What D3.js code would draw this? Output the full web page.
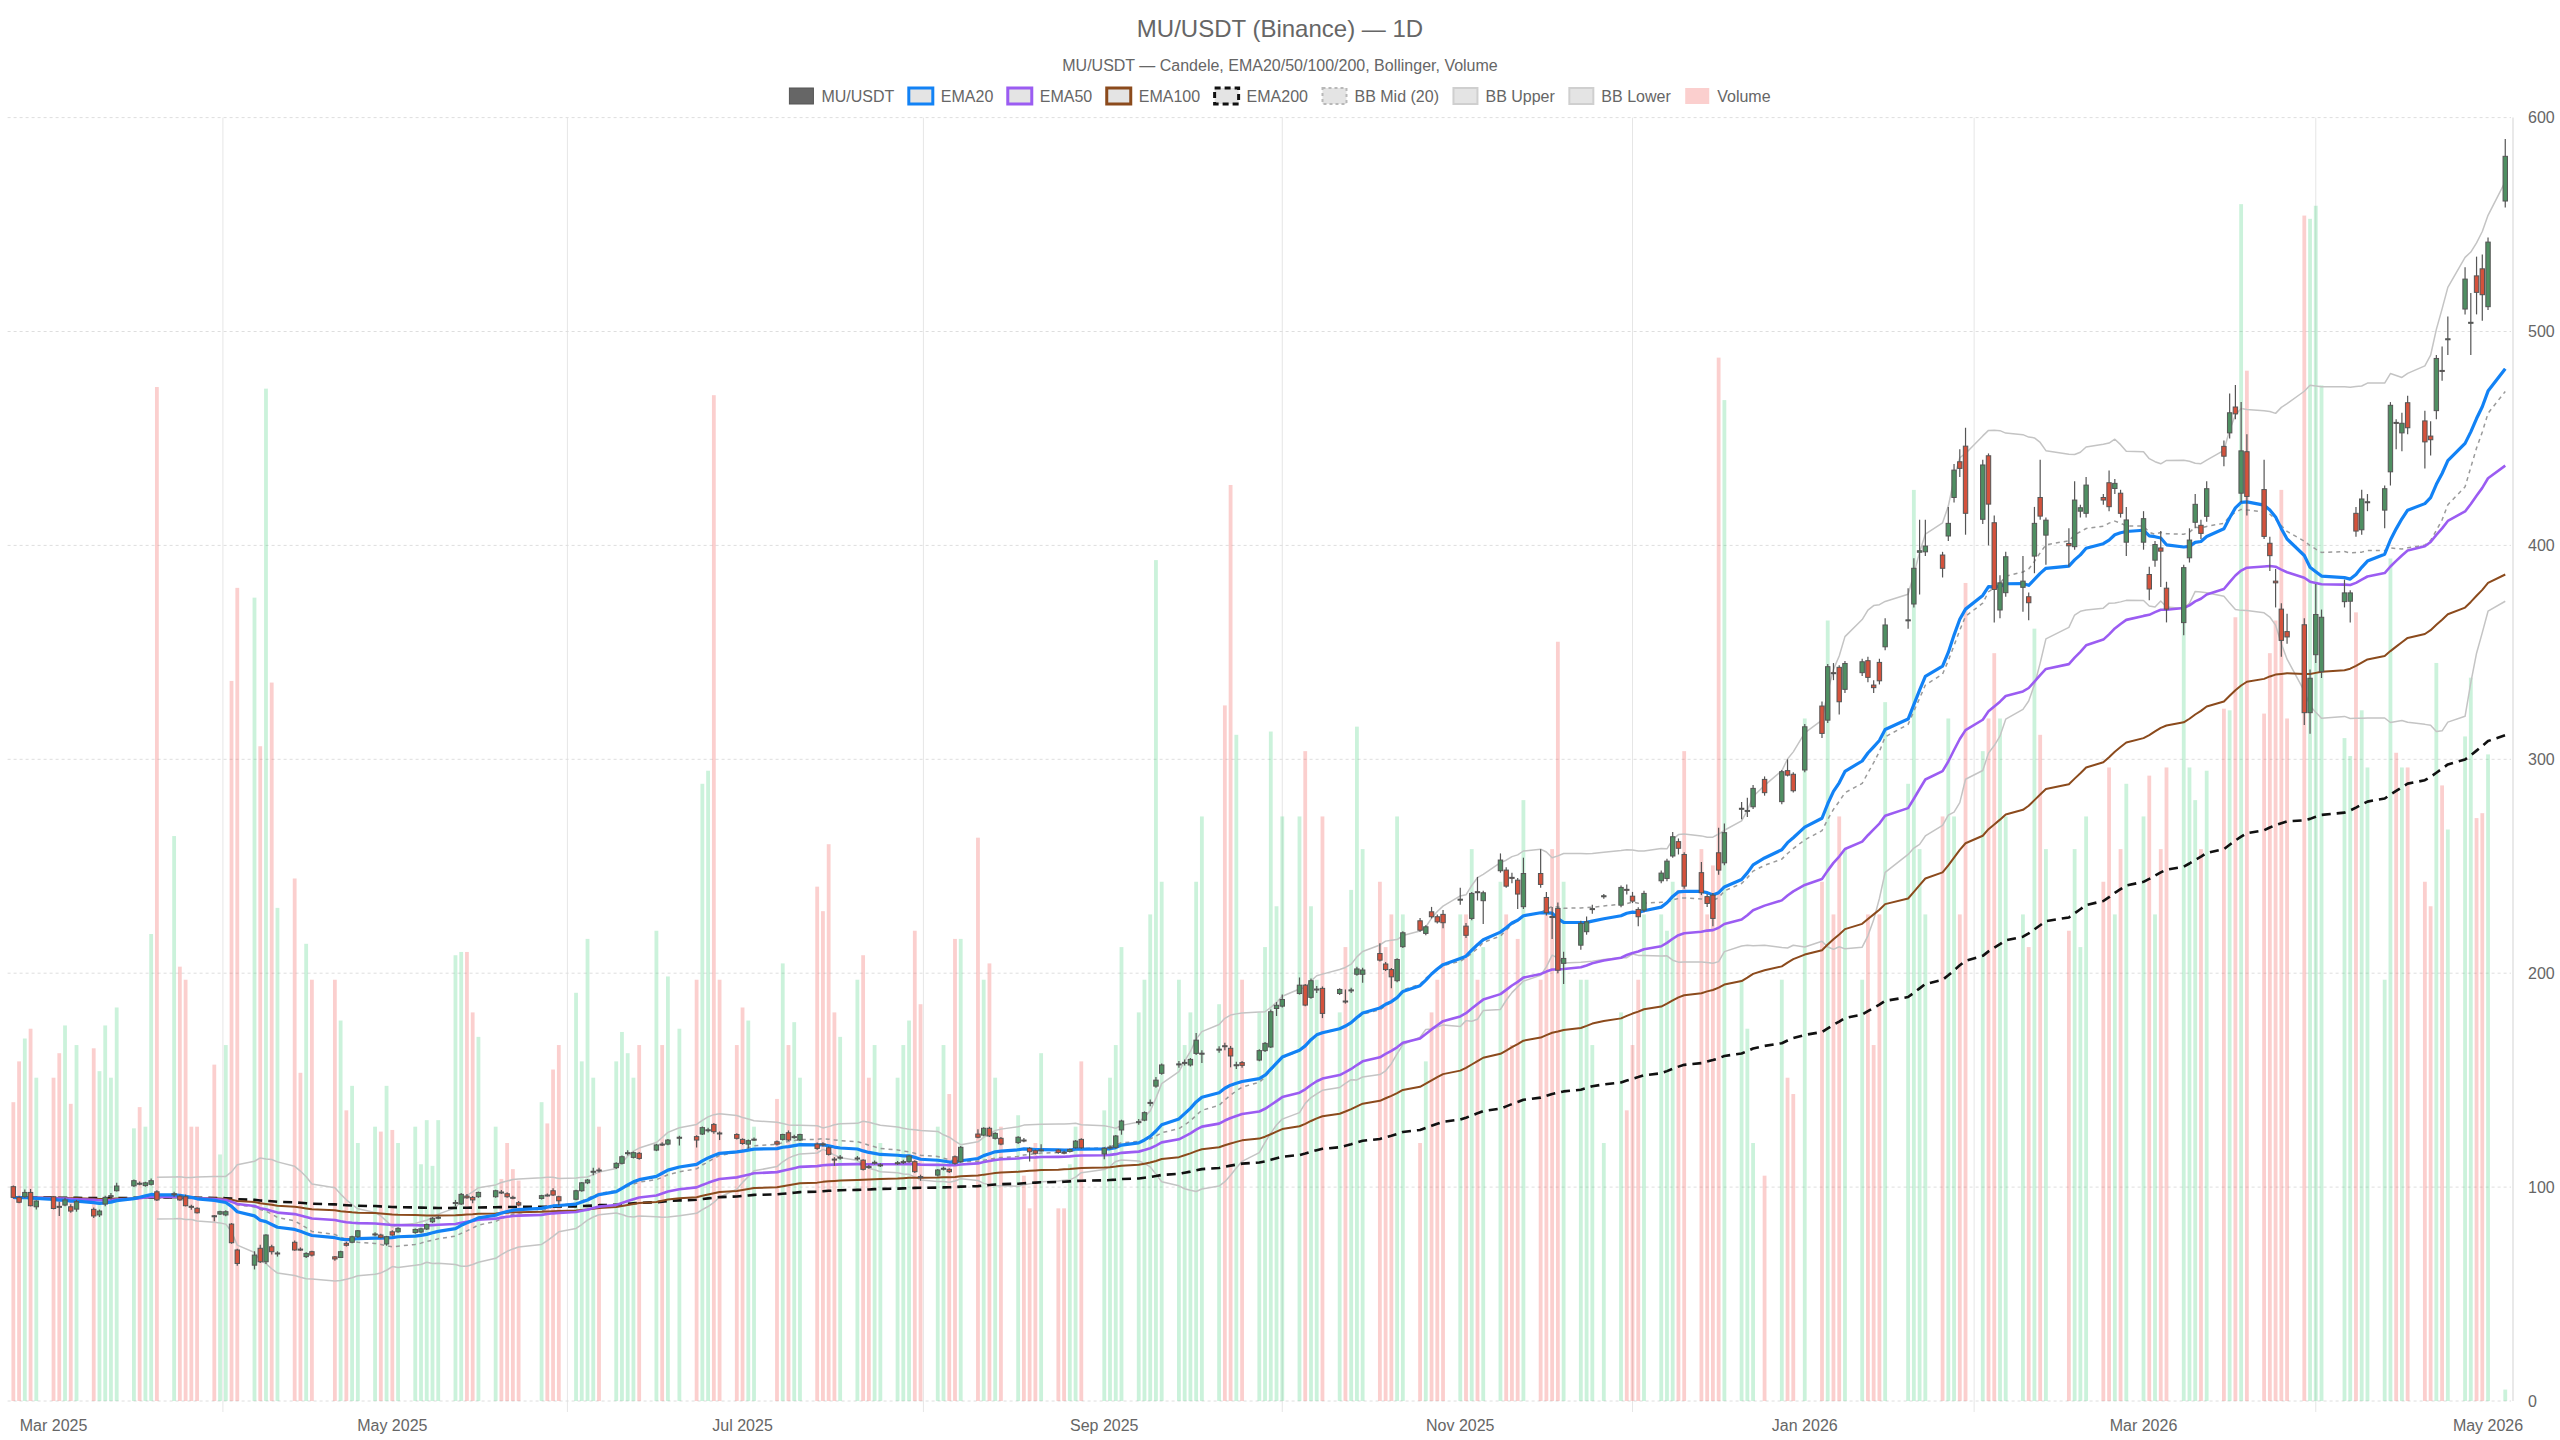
<!DOCTYPE html>
<html>
<head>
<meta charset="utf-8">
<script src="https://cdn.jsdelivr.net/npm/d3@7"></script>
<style>
  html, body { margin: 0; padding: 0; background: #fff; }
  svg text { font-family: "Liberation Sans", Arial, sans-serif; fill: #666; }
</style>
</head>
<body>
<div id="chart"></div>
<script>
// Giorni di borsa: dal 24/02/2025 al 04/05/2026, senza weekend e festività USA
const firstDay = '2025-02-24';
const lastDay = '2026-05-04';
const holidays = ['2025-04-18', '2025-05-26', '2025-06-19', '2025-07-04', '2025-09-01',
  '2025-11-27', '2025-12-25', '2026-01-01', '2026-01-19', '2026-02-16', '2026-04-03'];

// Etichette asse X (primo giorno di borsa del mese)
const tickDates = ['2025-03-03', '2025-05-01', '2025-07-01', '2025-09-02',
  '2025-11-03', '2026-01-02', '2026-03-02', '2026-05-01'];
const tickLabels = ['Mar 2025', 'May 2025', 'Jul 2025', 'Sep 2025',
  'Nov 2025', 'Jan 2026', 'Mar 2026', 'May 2026'];
const priceTicks = [0, 100, 200, 300, 400, 500, 600];

// OHLC, una riga per settimana
const opens = [
  100.2, 95.2, 95.5, 97.5, 90.8,
  95.5, 91.0, 91.6, 90.8, 89.7,
  89.6, 87.0, 92.1, 95.8, 98.3,
  100.6, 101.8, 100.7, 101.3, 97.8,
  96.7, 95.8, 95.5, 91.0, 90.1,
  86.6, 87.4, 87.0, 82.7, 70.6,
  63.5, 71.4, 65.1, 72.1, 69.0,
  74.2, 71.0, 67.5, 69.8,
  67.4, 67.1, 73.7, 74.2, 76.8,
  78.0, 77.6, 73.4, 79.1, 79.1,
  78.8, 79.0, 80.4, 83.8, 85.8,
  92.5, 92.1, 95.8, 95.2, 95.5,
  95.5, 97.7, 96.9, 95.2, 92.7,
  94.7, 96.3, 98.3, 95.5,
  94.3, 98.3, 102.0, 107.2, 108.0,
  109.1, 111.1, 116.0, 113.9, 115.8,
  117.3, 120.1, 120.1, 123.1,
  123.6, 124.8, 126.6, 129.3, 125.3,
  124.6, 122.3, 120.1, 122.3,
  121.2, 122.3, 125.4, 123.5, 122.0,
  120.1, 120.2, 118.4, 113.1, 113.9,
  113.4, 112.6, 109.6, 111.4, 110.3,
  111.3, 111.8, 111.9, 111.9, 104.9,
  105.6, 108.7, 108.3, 114.2, 111.9,
  124.8, 124.3, 127.5, 122.8, 122.8,
  120.8, 122.0, 118.1, 117.0, 117.3,
  117.3, 116.3, 116.7, 118.4, 122.3,
  115.5, 118.6, 118.6, 126.7,
  130.4, 131.3, 139.5, 147.2, 153.2,
  157.4, 158.2, 157.1, 162.5, 162.5,
  164.4, 166.1, 164.9, 157.1, 158.2,
  159.4, 163.8, 165.5, 183.5, 184.6,
  190.5, 194.4, 188.7, 192.4, 192.9,
  190.5, 187.0, 192.1, 199.5, 199.5,
  209.2, 204.3, 201.7, 196.5, 212.4,
  224.5, 218.6, 228.7, 226.4, 227.5,
  234.5, 222.0, 225.6, 238.1, 233.9,
  247.9, 248.2, 244.8, 243.5, 231.1,
  246.6, 235.4, 226.5, 230.3, 204.6,
  213.1, 219.4, 230.1, 236.0,
  231.8, 239.2, 236.0, 229.8, 229.5,
  243.2, 244.3, 254.8, 261.5, 255.5,
  247.0, 235.8, 236.5, 256.3, 251.6,
  277.0, 276.0, 277.8, 290.6,
  280.2, 294.7, 293.0, 295.0,
  324.9, 318.3, 340.5, 343.0, 332.7,
  340.5, 346.1, 334.7, 345.3, 352.6,
  365.0, 372.6, 396.8, 397.0,
  395.5, 404.4, 422.4, 439.1, 446.4,
  412.2, 441.9, 410.6, 369.8, 377.9,
  380.4, 376.0, 395.0, 422.4, 404.8,
  400.9, 399.4, 416.0, 415.0,
  422.4, 429.3, 426.6, 424.4, 401.5,
  401.5, 386.4, 393.1, 398.8, 380.0,
  363.9, 394.2, 410.8, 409.4, 413.6,
  446.3, 452.6, 464.7, 424.4, 443.8,
  426.1, 401.0, 383.3, 370.2, 359.7,
  362.9, 321.8, 348.9, 341.0,
  373.7, 373.9, 415.0, 407.3, 420.2,
  416.5, 434.4, 457.5, 452.6, 466.7,
  458.2, 451.1, 463.0, 481.8, 496.4,
  510.5, 504.1, 526.0, 529.3, 511.6,
  561.0
];
const highs = [
  100.8, 96.0, 98.9, 99.1, 93.8,
  95.8, 93.2, 95.0, 92.0, 94.0,
  90.5, 89.5, 96.0, 97.2, 102.0,
  103.5, 102.6, 102.5, 104.0, 98.5,
  97.8, 96.4, 96.5, 91.8, 90.6,
  87.0, 88.9, 89.2, 83.2, 71.2,
  70.0, 73.0, 78.0, 73.0, 70.0,
  75.0, 71.8, 69.5, 70.3,
  67.8, 70.3, 74.5, 77.2, 80.0,
  78.9, 78.2, 77.2, 79.8, 81.2,
  80.6, 81.0, 83.0, 86.0, 86.6,
  94.0, 97.2, 96.8, 95.8, 97.9,
  98.8, 98.6, 97.6, 96.0, 93.5,
  96.4, 97.0, 99.5, 96.0,
  98.8, 102.4, 103.8, 109.0, 109.0,
  111.6, 114.8, 117.2, 116.6, 116.4,
  120.2, 121.0, 122.5, 124.0,
  124.2, 128.3, 127.8, 130.0, 126.0,
  125.2, 122.8, 122.2, 123.2,
  121.8, 125.0, 126.5, 124.5, 125.0,
  120.8, 121.0, 119.0, 114.0, 115.0,
  114.5, 113.0, 110.5, 112.4, 111.2,
  112.2, 112.8, 115.0, 112.5, 105.8,
  108.5, 109.6, 108.8, 114.8, 119.2,
  127.0, 128.0, 128.2, 125.6, 123.4,
  123.8, 123.0, 118.6, 117.6, 120.0,
  117.8, 117.0, 118.0, 122.0, 122.8,
  118.6, 119.6, 124.4, 131.5,
  131.8, 135.4, 141.0, 151.5, 157.8,
  159.0, 159.6, 160.4, 172.0, 164.0,
  165.8, 167.5, 166.0, 158.6, 159.0,
  164.4, 167.8, 183.0, 186.5, 190.0,
  198.0, 195.0, 197.5, 194.0, 193.8,
  193.0, 192.4, 193.2, 203.0, 202.6,
  214.0, 205.2, 202.4, 207.0, 219.6,
  225.8, 222.4, 231.0, 227.4, 229.5,
  240.0, 223.5, 238.0, 245.0, 238.5,
  256.0, 249.5, 247.0, 244.5, 254.0,
  258.0, 238.0, 231.0, 233.0, 210.0,
  224.5, 226.5, 232.0, 237.0,
  241.0, 241.5, 238.0, 230.8, 238.5,
  248.0, 253.5, 266.0, 263.0, 256.5,
  252.0, 237.0, 237.5, 268.0, 270.0,
  280.0, 282.0, 288.0, 292.0,
  295.0, 300.0, 294.0, 316.5,
  327.0, 344.5, 345.0, 344.0, 346.0,
  347.0, 348.0, 337.0, 347.0, 366.0,
  380.0, 394.0, 412.0, 412.0,
  397.0, 418.0, 438.0, 445.0, 455.0,
  440.0, 443.0, 414.0, 386.0, 397.0,
  395.0, 378.0, 418.0, 440.0, 413.0,
  408.0, 430.0, 419.0, 432.0,
  424.0, 435.0, 431.0, 426.0, 418.0,
  416.0, 390.0, 402.0, 406.7, 383.0,
  391.0, 408.0, 424.0, 412.0, 430.0,
  449.0, 471.0, 475.0, 467.0, 452.0,
  440.0, 404.0, 389.0, 373.0, 368.0,
  366.0, 342.0, 382.0, 370.0,
  384.0, 379.0, 418.0, 426.0, 424.0,
  428.0, 467.0, 459.0, 462.0, 470.0,
  463.0, 458.0, 489.0, 493.0, 507.0,
  530.0, 518.0, 535.0, 536.0, 544.0,
  590.0
];
const lows = [
  94.8, 92.4, 95.0, 91.0, 89.5,
  89.6, 86.5, 91.0, 88.0, 88.5,
  85.5, 86.0, 91.0, 94.2, 98.0,
  100.0, 100.9, 100.2, 100.8, 93.5,
  95.5, 93.6, 91.0, 89.4, 87.6,
  84.0, 86.9, 86.4, 73.5, 63.2,
  61.5, 64.5, 64.0, 68.5, 67.5,
  70.2, 70.2, 66.8, 67.6,
  65.6, 66.8, 72.2, 73.8, 76.3,
  77.0, 76.0, 72.6, 77.2, 78.6,
  78.2, 78.4, 80.0, 83.2, 85.0,
  91.0, 91.6, 94.5, 92.5, 95.0,
  95.0, 96.8, 95.0, 94.3, 91.0,
  94.2, 95.6, 95.8, 91.5,
  93.8, 97.8, 101.4, 105.5, 106.8,
  108.5, 110.6, 114.8, 113.4, 112.8,
  116.8, 119.2, 119.6, 119.5,
  118.5, 124.3, 125.5, 125.0, 122.0,
  122.3, 119.8, 118.0, 121.5,
  119.5, 121.8, 121.5, 122.6, 121.5,
  117.5, 119.0, 114.8, 110.0, 112.8,
  112.4, 107.8, 108.6, 110.6, 109.4,
  110.4, 110.8, 111.4, 106.6, 103.0,
  105.0, 107.8, 106.6, 110.5, 111.4,
  122.8, 123.8, 123.4, 122.2, 119.6,
  120.2, 121.0, 112.0, 115.2, 116.6,
  115.6, 115.4, 116.2, 118.0, 117.8,
  113.0, 117.6, 118.0, 124.5,
  129.2, 130.8, 137.8, 146.5, 152.5,
  155.8, 156.8, 156.4, 161.8, 158.0,
  162.8, 164.0, 156.0, 155.2, 155.8,
  158.8, 163.2, 165.0, 180.0, 184.0,
  190.0, 184.5, 188.0, 190.8, 179.0,
  189.8, 185.8, 190.8, 198.8, 195.5,
  205.5, 201.0, 193.0, 195.8, 211.8,
  219.4, 217.8, 225.6, 223.2, 221.0,
  232.0, 216.5, 224.8, 234.0, 223.0,
  247.0, 240.0, 242.0, 230.0, 230.0,
  240.0, 227.0, 216.0, 200.0, 195.0,
  211.0, 218.0, 227.8, 234.8,
  230.8, 236.8, 232.8, 222.0, 228.5,
  242.0, 243.0, 254.0, 255.5, 239.5,
  236.5, 231.0, 222.0, 246.0, 250.5,
  272.0, 273.0, 276.8, 283.0,
  279.0, 292.0, 284.5, 294.0,
  310.0, 317.0, 337.0, 321.0, 331.0,
  339.0, 336.0, 331.0, 335.0, 351.0,
  361.0, 371.0, 377.0, 395.0,
  385.0, 402.0, 420.0, 432.0, 405.0,
  410.0, 400.0, 364.0, 366.0, 376.0,
  369.0, 365.0, 387.0, 412.0, 391.0,
  390.0, 398.0, 413.0, 413.0,
  419.0, 416.0, 424.0, 413.0, 395.0,
  398.0, 374.4, 390.0, 380.6, 364.0,
  358.0, 392.0, 408.0, 403.0, 411.0,
  437.0, 450.0, 459.0, 420.0, 414.0,
  403.0, 388.0, 371.0, 348.0, 354.0,
  316.0, 312.0, 345.0, 338.0,
  371.0, 364.0, 404.0, 405.0, 416.0,
  408.0, 428.0, 445.0, 444.0, 452.0,
  436.0, 442.0, 459.0, 477.0, 489.0,
  508.0, 489.0, 508.0, 505.0, 510.0,
  558.0
];
const closes = [
  95.2, 92.9, 97.5, 91.3, 93.5,
  90.0, 90.8, 94.0, 88.8, 93.2,
  86.5, 88.8, 95.2, 96.0, 100.5,
  103.0, 101.6, 102.0, 103.0, 94.0,
  96.9, 94.0, 91.3, 90.8, 88.0,
  86.4, 88.5, 88.5, 74.0, 64.3,
  68.2, 65.1, 77.6, 69.8, 69.2,
  70.6, 70.9, 69.0, 68.2,
  66.4, 69.8, 72.8, 76.8, 79.6,
  78.1, 76.5, 76.8, 77.6, 80.7,
  80.2, 80.5, 82.5, 85.4, 85.9,
  92.8, 96.6, 95.0, 94.0, 97.5,
  98.3, 97.6, 95.5, 95.1, 91.6,
  96.0, 96.2, 96.3, 93.6,
  98.3, 102.0, 103.3, 107.4, 107.9,
  111.1, 114.2, 116.1, 116.1, 113.4,
  119.7, 120.0, 122.0, 123.3,
  122.0, 127.8, 126.8, 125.9, 125.1,
  122.8, 120.4, 121.7, 122.4,
  120.1, 124.6, 122.0, 123.6, 124.6,
  118.1, 120.0, 115.3, 113.0, 114.0,
  113.6, 108.3, 109.5, 111.6, 110.4,
  111.4, 111.9, 114.5, 107.2, 104.8,
  108.0, 108.8, 107.2, 111.1, 118.6,
  123.3, 127.5, 123.9, 125.1, 120.1,
  123.3, 121.9, 116.5, 115.8, 117.4,
  116.2, 116.2, 117.6, 121.5, 118.4,
  118.1, 118.7, 123.9, 130.9,
  130.6, 134.8, 139.6, 150.0, 157.1,
  157.6, 158.3, 159.7, 168.7, 162.6,
  164.5, 165.9, 161.3, 157.2, 156.9,
  163.8, 167.2, 182.0, 185.0, 187.7,
  194.4, 185.1, 196.5, 192.6, 181.2,
  192.4, 186.9, 192.2, 202.0, 201.5,
  206.1, 201.7, 198.3, 206.4, 218.9,
  220.1, 221.7, 226.4, 224.0, 223.6,
  234.6, 217.7, 237.3, 238.0, 237.6,
  252.9, 240.7, 244.7, 237.0, 246.6,
  241.5, 228.3, 226.3, 201.4, 206.9,
  223.3, 224.0, 230.2, 236.2,
  240.1, 239.1, 233.7, 226.4, 237.3,
  246.8, 252.4, 263.8, 258.4, 240.7,
  237.6, 232.6, 225.6, 248.2, 265.7,
  277.1, 276.1, 286.4, 284.4,
  294.2, 292.6, 285.3, 315.2,
  312.1, 343.3, 340.3, 326.9, 344.8,
  345.6, 338.3, 333.5, 336.7, 362.8,
  365.2, 389.3, 397.5, 399.7,
  389.3, 410.3, 435.2, 436.0, 415.0,
  437.6, 419.3, 379.4, 382.5, 394.7,
  383.3, 373.2, 410.3, 413.7, 411.8,
  399.8, 421.2, 417.6, 428.2,
  421.2, 418.1, 429.0, 415.0, 411.9,
  412.5, 379.6, 400.4, 397.3, 370.2,
  389.6, 402.5, 419.2, 405.6, 426.5,
  441.7, 462.0, 461.5, 444.2, 422.9,
  404.2, 395.2, 382.5, 355.6, 357.2,
  321.8, 337.9, 367.7, 366.4,
  377.8, 377.8, 406.7, 421.7, 420.4,
  426.5, 465.5, 457.3, 457.1, 455.0,
  448.4, 449.4, 487.4, 481.6, 496.6,
  524.5, 504.3, 518.3, 517.2, 541.8,
  581.9
];
// Volume (milioni, stima dall'altezza delle barre)
const volumes = [
  18.3, 20.8, 22.2, 22.8, 19.8,
  19.8, 21.3, 23.0, 18.2, 21.8,
  21.6, 20.2, 23.0, 19.8, 24.1,
  16.7, 18.0, 16.8, 28.6, 62.1,
  34.6, 26.6, 25.8, 16.8, 16.8,
  20.6, 15.1, 21.8, 44.1, 49.8,
  49.2, 40.1, 62.0, 44.0, 30.2,
  32.0, 20.1, 28.0, 25.8,
  25.8, 23.3, 17.8, 19.3, 15.8,
  16.8, 16.5, 19.3, 16.6, 15.8,
  16.8, 14.5, 17.2, 14.4, 17.2,
  27.3, 27.5, 27.5, 23.8, 22.3,
  16.8, 13.6, 15.8, 14.2, 13.5,
  18.3, 17.0, 20.3, 21.8,
  25.0, 20.8, 28.3, 19.8, 16.8,
  20.8, 22.6, 21.3, 19.8, 21.8,
  28.8, 21.8, 26.0, 22.8,
  25.8, 37.8, 38.6, 61.6, 25.8,
  21.8, 24.1, 23.3, 16.8,
  18.5, 26.8, 21.8, 23.2, 19.8,
  31.5, 30.0, 34.1, 23.8, 22.3,
  25.8, 27.3, 19.8, 21.8, 15.8,
  19.8, 21.8, 23.3, 28.8, 24.3,
  16.8, 21.8, 18.8, 28.3, 28.3,
  34.5, 25.8, 26.8, 19.8, 16.8,
  17.5, 13.8, 11.8, 15.8, 21.3,
  11.8, 11.8, 14.5, 16.8, 20.8,
  17.8, 19.8, 21.8, 27.8,
  23.8, 25.8, 29.8, 51.5, 31.8,
  25.8, 21.8, 23.8, 31.8, 35.8,
  24.3, 42.6, 56.1, 40.8, 25.8,
  23.8, 27.8, 41.0, 30.3, 35.8,
  35.8, 39.8, 30.3, 25.8, 35.8,
  23.8, 27.8, 31.3, 41.3, 33.8,
  31.8, 27.8, 29.8, 35.8, 29.8,
  15.8, 20.8, 23.8, 25.8, 29.8,
  29.8, 29.8, 33.8, 25.8, 27.8,
  31.8, 29.8, 21.8, 28.3, 36.8,
  25.8, 29.8, 33.8, 46.5, 31.8,
  25.8, 25.8, 21.8, 15.8,
  23.8, 17.8, 21.8, 25.8, 29.8,
  29.8, 28.8, 31.8, 31.3, 39.8,
  33.8, 29.8, 32.8, 63.9, 61.3,
  25.8, 22.8, 15.8, 13.8,
  25.8, 19.8, 18.8, 41.8,
  31.8, 47.8, 29.8, 35.8, 33.8,
  25.8, 29.8, 21.8, 29.8, 42.8,
  37.8, 55.8, 33.8, 29.8,
  35.8, 41.8, 35.8, 29.8, 50.1,
  39.8, 41.8, 45.8, 41.8, 35.8,
  29.8, 27.8, 47.3, 40.8, 33.8,
  28.8, 33.8, 27.8, 35.8,
  31.8, 38.8, 29.8, 33.8, 37.8,
  35.8, 38.3, 29.8, 33.8, 38.8,
  47.8, 38.8, 36.8, 33.8, 38.6,
  42.4, 42.3, 48.0, 73.3, 63.1,
  42.1, 45.8, 47.8, 55.8, 41.8,
  72.6, 72.4, 73.2, 62.2,
  40.6, 39.5, 48.3, 42.3, 38.8,
  25.8, 51.6, 39.7, 38.8, 38.8,
  31.8, 30.3, 45.2, 37.7, 35.0,
  40.7, 44.3, 35.7, 36.0, 39.6,
  0.7
];

// Date dei giorni di borsa
const parseDay = d3.utcParse('%Y-%m-%d');
const fmtDay = d3.utcFormat('%Y-%m-%d');
const dates = d3.utcDays(parseDay(firstDay), d3.utcDay.offset(parseDay(lastDay), 1))
  .filter(d => d.getUTCDay() !== 0 && d.getUTCDay() !== 6 && !holidays.includes(fmtDay(d)));

const data = dates.map((date, i) => ({
  date, open: opens[i], high: highs[i], low: lows[i], close: closes[i], volume: volumes[i]
}));

// Indicatori calcolati sulle chiusure
function ema(values, n) {
  const k = 2 / (n + 1);
  let prev = values[0];
  return values.map((v, i) => (prev = i === 0 ? v : v * k + prev * (1 - k)));
}
function bollinger(values, n, mult) {
  const mid = [], up = [], lo = [];
  values.forEach((v, i) => {
    if (i < n - 1) { mid.push(null); up.push(null); lo.push(null); return; }
    const win = values.slice(i - n + 1, i + 1);
    const m = d3.mean(win);
    const sd = Math.sqrt(d3.mean(win, w => (w - m) * (w - m)));
    mid.push(m); up.push(m + mult * sd); lo.push(m - mult * sd);
  });
  return { mid, up, lo };
}
const ema20 = ema(closes, 20);
const ema50 = ema(closes, 50);
const ema100 = ema(closes, 100);
const ema200 = ema(closes, 200);
const bb = bollinger(closes, 20, 2);

// Configurazioni
const W = 2560, H = 1440;
const plot = { left: 7.6, right: 2511, top: 117.6, bottom: 1401 };
const colors = {
  up: '#4f8f62', down: '#d4523c', border: '#555',
  volUp: 'rgba(46, 204, 113, 0.25)', volDown: 'rgba(239, 83, 80, 0.28)',
  ema20: '#1282f5', ema50: '#9b5cf2', ema100: '#8b4a1c', ema200: '#111',
  bbMid: '#9a9a9a', bbBand: '#c4c4c4', grid: '#e6e6e6', text: '#666'
};

const svg = d3.select('#chart').append('svg')
  .attr('width', W).attr('height', H)
  .style('display', 'block').style('background', '#fff');

// Scale
const x = d3.scaleUtc()
  .domain([d3.utcDay.offset(dates[0], -1), d3.utcDay.offset(dates[dates.length - 1], 1)])
  .range([plot.left, plot.right]);
const y = d3.scaleLinear().domain([0, 600]).range([plot.bottom, plot.top]);
const yVol = d3.scaleLinear().domain([0, 78.6]).range([plot.bottom, plot.top]);

// Griglia verticale: a metà tra le etichette dei mesi
const tickX = tickDates.map(d => x(parseDay(d)));
const gridX = tickX.map((px, i) => i === 0 ? px - (tickX[1] - px) / 2 : (px + tickX[i - 1]) / 2)
  .filter(px => px > plot.left && px < plot.right);
svg.append('g').selectAll('line').data(gridX).enter().append('line')
  .attr('x1', d => d).attr('x2', d => d)
  .attr('y1', plot.top).attr('y2', plot.bottom + 11)
  .attr('stroke', colors.grid).attr('stroke-width', 1);

// Griglia orizzontale tratteggiata
svg.append('g').selectAll('line').data(priceTicks).enter().append('line')
  .attr('x1', plot.left).attr('x2', plot.right)
  .attr('y1', d => y(d)).attr('y2', d => y(d))
  .attr('stroke', '#dedede').attr('stroke-width', 1).attr('stroke-dasharray', '3,3');

// Volume
const volW = 3.8;
svg.append('g').selectAll('rect').data(data).enter().append('rect')
  .attr('x', d => x(d.date) - volW / 2)
  .attr('y', d => yVol(d.volume))
  .attr('width', volW)
  .attr('height', d => plot.bottom - yVol(d.volume))
  .attr('fill', d => d.close >= d.open ? colors.volUp : colors.volDown);

// Linee
function drawLine(values, color, width, dash) {
  const line = d3.line()
    .defined(d => d[1] != null)
    .x(d => x(d[0]))
    .y(d => y(d[1]));
  svg.append('path')
    .datum(dates.map((d, i) => [d, values[i]]))
    .attr('fill', 'none')
    .attr('stroke', color)
    .attr('stroke-width', width)
    .attr('stroke-linejoin', 'round')
    .attr('stroke-dasharray', dash || null)
    .attr('d', line);
}
drawLine(bb.lo, colors.bbBand, 1.5);
drawLine(bb.up, colors.bbBand, 1.5);
drawLine(bb.mid, colors.bbMid, 1.5, '4,4');
drawLine(ema200, colors.ema200, 2.6, '9,6');
drawLine(ema100, colors.ema100, 2);
drawLine(ema50, colors.ema50, 2.6);
drawLine(ema20, colors.ema20, 3.2);

// Candele
const bodyW = 4.4;
const candles = svg.append('g').selectAll('g').data(data).enter().append('g');
candles.append('line')
  .attr('x1', d => x(d.date)).attr('x2', d => x(d.date))
  .attr('y1', d => y(d.high)).attr('y2', d => y(d.low))
  .attr('stroke', colors.border).attr('stroke-width', 1.2);
candles.append('rect')
  .attr('x', d => x(d.date) - bodyW / 2)
  .attr('y', d => y(Math.max(d.open, d.close)))
  .attr('width', bodyW)
  .attr('height', d => Math.max(1, Math.abs(y(d.open) - y(d.close))))
  .attr('fill', d => d.close >= d.open ? colors.up : colors.down)
  .attr('stroke', colors.border).attr('stroke-width', 1);

// Asse Y a destra
svg.append('line')
  .attr('x1', plot.right + 2).attr('x2', plot.right + 2)
  .attr('y1', plot.top).attr('y2', plot.bottom)
  .attr('stroke', '#e2e2e2').attr('stroke-width', 1.5);
svg.append('g').selectAll('text').data(priceTicks).enter().append('text')
  .attr('x', 2528).attr('y', d => y(d) + 5.5)
  .style('font-size', '16px')
  .text(d => d);

// Asse X
svg.append('g').selectAll('text').data(tickLabels).enter().append('text')
  .attr('x', (d, i) => tickX[i]).attr('y', 1431)
  .attr('text-anchor', 'middle')
  .style('font-size', '16px')
  .text(d => d);

// Titoli
svg.append('text').attr('x', W / 2).attr('y', 37)
  .attr('text-anchor', 'middle').style('font-size', '24px')
  .text('MU/USDT (Binance) — 1D');
svg.append('text').attr('x', W / 2).attr('y', 70.5)
  .attr('text-anchor', 'middle').style('font-size', '16px')
  .text('MU/USDT — Candele, EMA20/50/100/200, Bollinger, Volume');

// Legenda
const legendItems = [
  { label: 'MU/USDT', fill: '#666', stroke: '#555', width: 1 },
  { label: 'EMA20', fill: '#e4e4e4', stroke: colors.ema20, width: 3 },
  { label: 'EMA50', fill: '#e4e4e4', stroke: colors.ema50, width: 3 },
  { label: 'EMA100', fill: '#e4e4e4', stroke: colors.ema100, width: 3 },
  { label: 'EMA200', fill: '#e4e4e4', stroke: colors.ema200, width: 3, dash: '6,4' },
  { label: 'BB Mid (20)', fill: '#e4e4e4', stroke: '#b8b8b8', width: 2, dash: '3,3' },
  { label: 'BB Upper', fill: '#e4e4e4', stroke: '#cfcfcf', width: 2 },
  { label: 'BB Lower', fill: '#e4e4e4', stroke: '#cfcfcf', width: 2 },
  { label: 'Volume', fill: 'rgba(239, 83, 80, 0.28)', stroke: 'none', width: 0 }
];
const boxW = 24, boxH = 16, gapText = 8, gapItem = 14.5;
const legend = svg.append('g');
const items = legend.selectAll('g').data(legendItems).enter().append('g');
items.append('rect')
  .attr('width', boxW).attr('height', boxH)
  .attr('y', 88)
  .attr('fill', d => d.fill)
  .attr('stroke', d => d.stroke)
  .attr('stroke-width', d => d.width)
  .attr('stroke-dasharray', d => d.dash || null);
items.append('text')
  .attr('x', boxW + gapText).attr('y', 101.5)
  .style('font-size', '16px')
  .text(d => d.label);
let cursor = 0;
const offsets = [];
items.each(function() {
  const tw = d3.select(this).select('text').node().getComputedTextLength();
  offsets.push(cursor);
  cursor += boxW + gapText + tw + gapItem;
});
const legendStart = W / 2 - (cursor - gapItem) / 2;
items.attr('transform', (d, i) => `translate(${legendStart + offsets[i]},0)`);
</script>
</body>
</html>
